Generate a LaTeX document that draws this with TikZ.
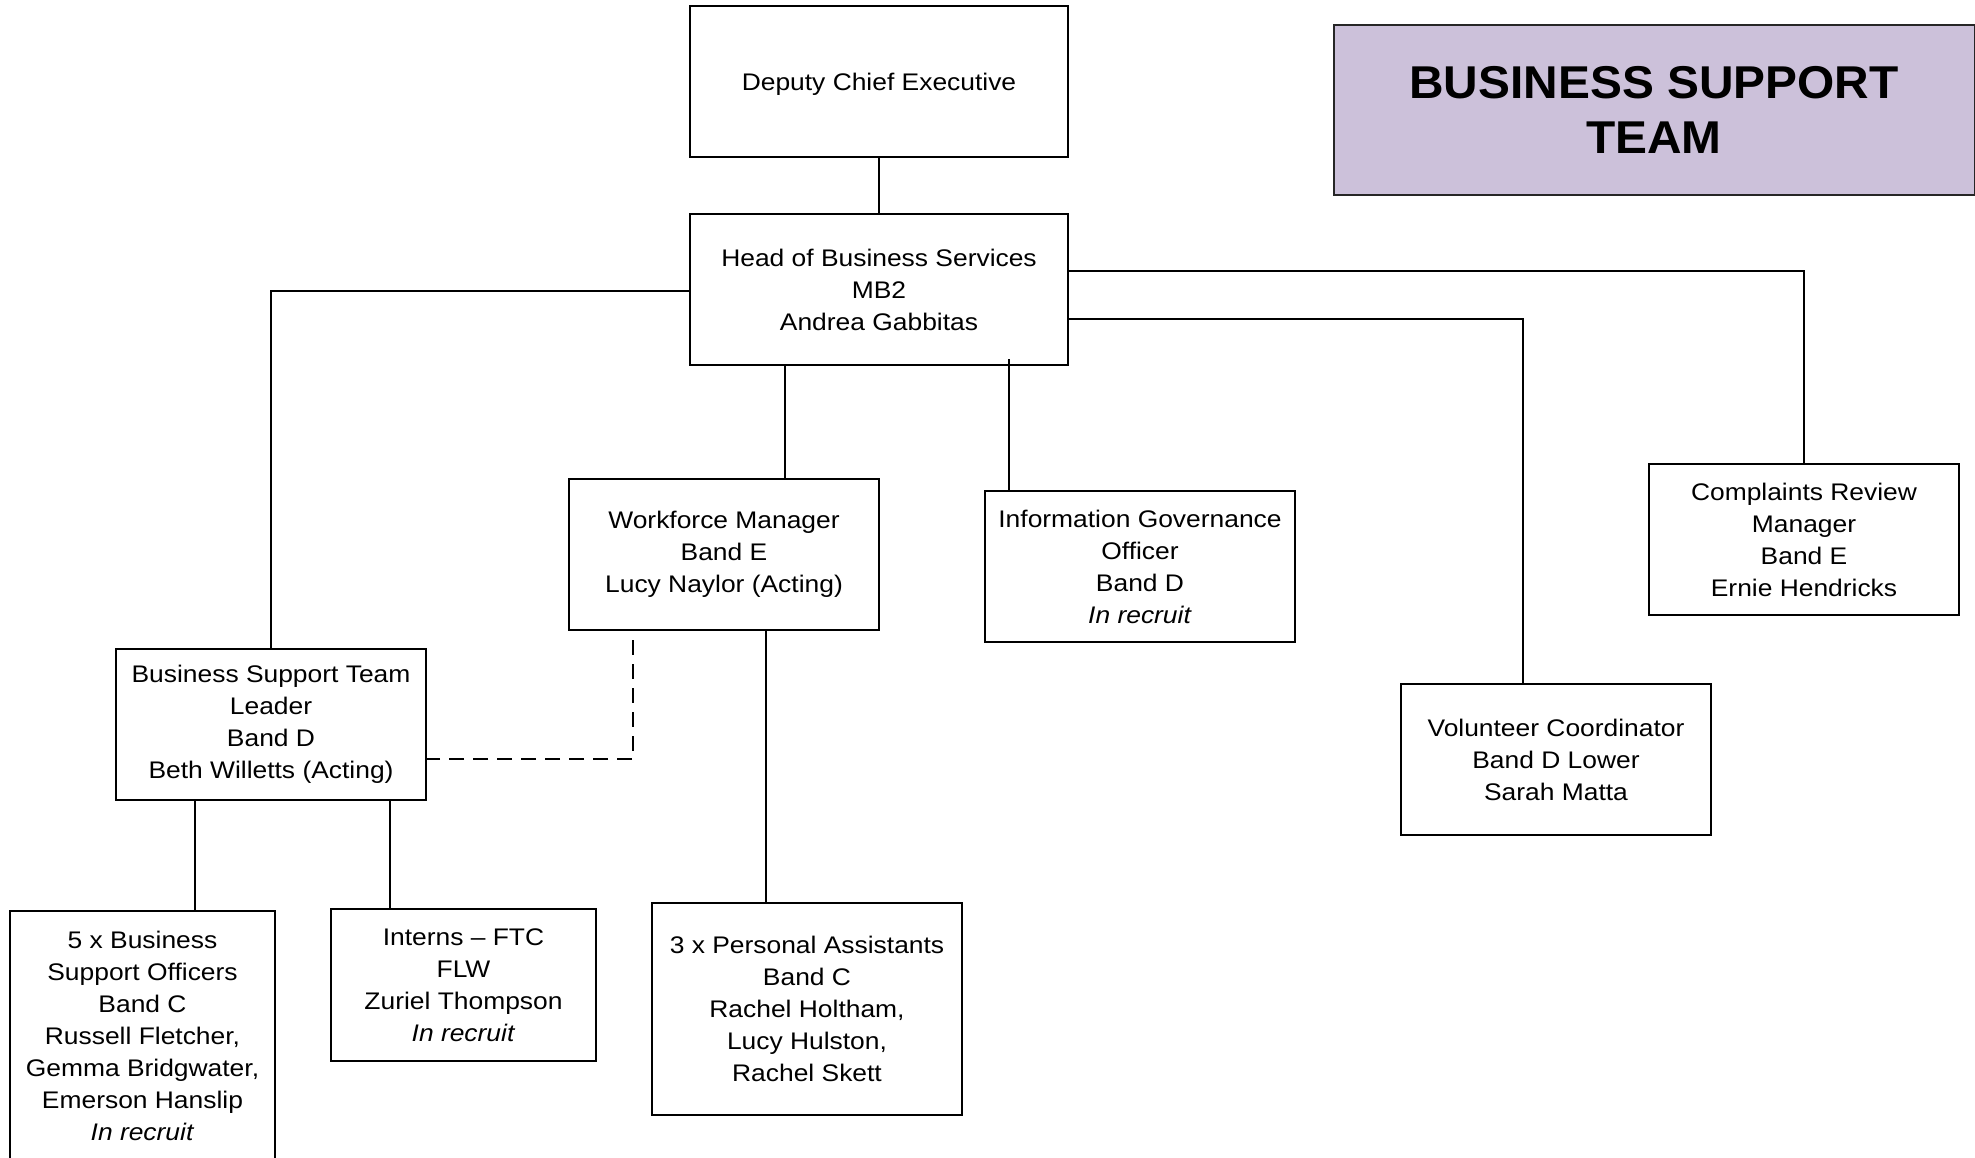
\documentclass[tikz,border=0pt]{standalone}
\usepackage{fontspec}
\setmainfont{Liberation Sans}[FakeStretch=1.1]
\newfontfamily\titlefont{Liberation Sans}[FakeStretch=1.04]
\usetikzlibrary{calc}
\definecolor{lav}{HTML}{CCC1DA}
\begin{document}
\begin{tikzpicture}[x=1pt,y=-1pt,
  box/.style={draw=black, line width=2pt, inner sep=0pt, align=center,
    font=\fontsize{24}{32}\selectfont, minimum width=310pt, minimum height=151pt},
  conn/.style={line width=1.8pt},
  dashconn/.style={line width=1.8pt, dash pattern=on 15pt off 9pt},
]
\clip (0,0) rectangle (1975,1157);
\fill[white] (0,0) rectangle (1975,1157);

\node[draw=black!85, line width=2pt, fill=lav, minimum width=641pt, minimum height=170pt,
  inner sep=0pt, align=center, font=\titlefont\bfseries\fontsize{46}{55.5}\selectfont]
  (title) at (1654,110) {BUSINESS SUPPORT\\TEAM};

\node[box, minimum width=378pt, text depth=0pt] (dce) at (879,81.5) {Deputy Chief Executive};
\node[box, minimum width=378pt] (hbs) at (879,289.5) {Head of Business Services\\MB2\\Andrea Gabbitas};
\node[box] (bst) at (271,724.5) {Business Support Team\\Leader\\Band D\\Beth Willetts (Acting)};
\node[box] (wm) at (724,554.5) {Workforce Manager\\Band E\\Lucy Naylor (Acting)};
\node[box] (igo) at (1140,566.5) {Information Governance\\Officer\\Band D\\\textit{In recruit}};
\node[box] (crm) at (1804,539.5) {Complaints Review\\Manager\\Band E\\Ernie Hendricks};
\node[box] (vc) at (1556,759.5) {Volunteer Coordinator\\Band D Lower\\Sarah Matta};
\node[box, minimum width=265pt, minimum height=249pt] (bso) at (142.5,1035.5)
  {5 x Business\\Support Officers\\Band C\\Russell Fletcher,\\Gemma Bridgwater,\\Emerson Hanslip\\\textit{In recruit}};
\node[box, minimum width=265pt, minimum height=152pt] (int) at (463.5,985)
  {Interns -- FTC\\FLW\\Zuriel Thompson\\\textit{In recruit}};
\node[box, minimum height=212pt] (pa) at (807,1009)
  {3 x Personal Assistants\\Band C\\Rachel Holtham,\\Lucy Hulston,\\Rachel Skett};

\draw[conn] (dce.south) -- (hbs.north);
\draw[conn] ($(hbs.west)+(0,1.5)$) -| (bst.north);
\draw[conn] ($(hbs.south)+(-94,0)$) -- ($(hbs.south |- wm.north)+(-94,0)$);
\draw[conn] ($(hbs.south)+(130,-7)$) -- ($(hbs.south |- igo.north)+(130,0)$);
\draw[conn] ($(hbs.east)+(0,-18.5)$) -| (crm.north);
\draw[conn] ($(hbs.east)+(0,29.5)$) -| ($(vc.north)+(-33,0)$);
\draw[conn] ($(wm.south)+(42,0)$) -- ($(wm.south |- pa.north)+(42,0)$);
\draw[conn] ($(bst.south)+(-76,0)$) -- ($(bst.south |- bso.north)+(-76,0)$);
\draw[conn] ($(bst.south)+(119,0)$) -- ($(bst.south |- int.north)+(119,0)$);
\draw[dashconn] ($(wm.south)+(-91,9)$) |- ($(bst.east)+(0,34.5)$);
\end{tikzpicture}
\end{document}
